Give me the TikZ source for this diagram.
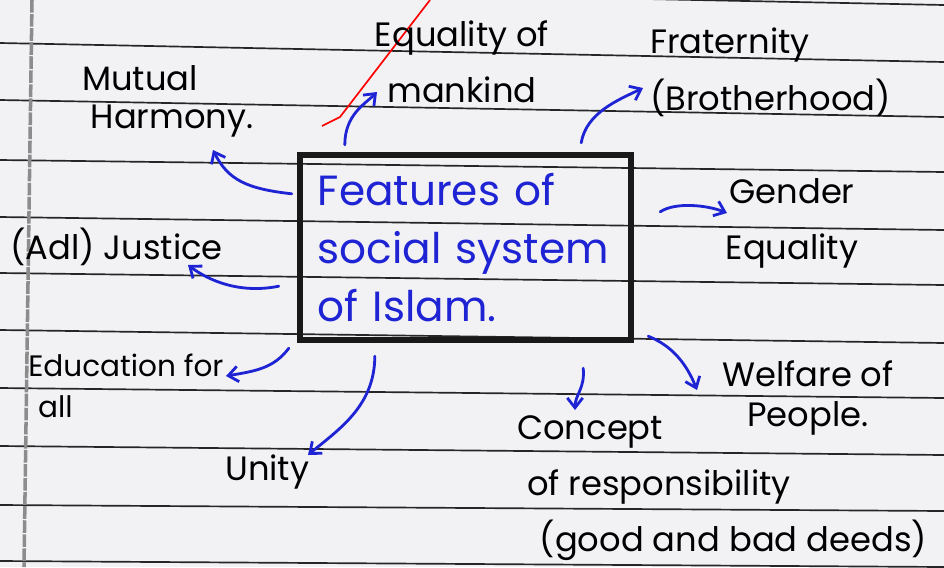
\documentclass[tikz,border=0pt]{standalone}
\usepackage{fontspec}
\setmainfont{Poppins}
\usetikzlibrary{positioning}
\usetikzlibrary{calc}
\usetikzlibrary{arrows.meta}

\definecolor{paper}{RGB}{242,241,244}
\definecolor{ink}{RGB}{30,36,212}
\definecolor{margin}{RGB}{140,140,140}

\begin{document}
\begin{tikzpicture}[x=0.025cm, y=-0.025cm, >={Straight Barb[length=7pt,width=11pt]},
    ruled/.style={line width=1.2pt, black!85},
    lbl/.style={inner sep=0pt, text=black, font=\fontsize{24}{40}\selectfont},
    feat/.style={draw=black!90, line width=4.5pt, minimum width=8.275cm, minimum height=4.625cm,
        inner xsep=0.45cm, text width=7.375cm, align=left, text=ink, font=\fontsize{30}{41}\selectfont},
    arr/.style={->, ink, line width=2pt, line cap=round}]

    \useasboundingbox (0,0) rectangle (944,567);
    \clip (0,0) rectangle (944,567);
    \fill[paper] (0,0) rectangle (944,567);

    % Blatt
    \foreach \yl/\yr in {-14/5, 43/62, 100/117, 160/172, 217/230, 273/285, 330/343, 388/398, 446/455, 505/511, 561/567}
        \draw[ruled] (0,\yl) -- (944,\yr);
    \draw[margin, line width=2.5pt, dash pattern=on 9pt off 1pt] (32,0) -- (24,567);
    \draw[red, line width=1.2pt] (322,126) -- (340,117) -- (430,0);

    \node[feat] (core) at (465.5,247.5) {Features of\\social system\\of Islam.};

    \node[lbl, anchor=north, align=center] (eq) at (462,20) {Equality of\\mankind};
    \node[lbl, anchor=north west, align=left] (frat) at (650,28) {Fraternity\\(Brotherhood)};
    \node[lbl, anchor=north west, align=left, font=\fontsize{24}{27}\selectfont] (mut) at (82,65) {Mutual\\\hspace*{6pt}Harmony.};
    \node[lbl, anchor=north, align=center] (gend) at (792,178) {Gender\\Equality};
    \node[lbl, anchor=north west] (just) at (10,228) {(Adl) Justice};
    \node[lbl, anchor=north west, align=left, font=\fontsize{21}{29}\selectfont] (edu) at (28,354) {Education for\\\hspace*{7pt}all};
    \node[lbl, anchor=north west] (unity) at (225,455) {Unity};
    \node[lbl, anchor=north west, align=left] (conc) at (517,415) {Concept\\\hspace*{7pt}of responsibility\\\hspace*{16pt}(good and bad deeds)};
    \node[lbl, anchor=north, align=center, font=\fontsize{24}{29}\selectfont] (welf) at (808,360) {Welfare of\\People.};

    % Pfeile
    \draw[arr] ($(core.north west)+(48,-7)$) .. controls +(0,-30) and +(-12,12) .. ($(eq.north)+(-85,72)$);
    \draw[arr] ($(core.north east)+(-53,-9)$) .. controls +(5,-30) and +(-25,12) .. ($(frat.north west)+(-7,60)$);
    \draw[arr] ($(core.north west)+(-5,42)$) .. controls +(-45,-5) and +(15,30) .. ($(mut.north west)+(131,85)$);
    \draw[arr] ($(core.north east)+(26,60)$) .. controls +(15,-10) and +(-20,-8) .. ($(gend.north)+(-65,35)$);
    \draw[arr] ($(core.south west)+(-18,-57)$) .. controls +(-40,8) and +(20,15) .. ($(just.north west)+(178,37)$);
    \draw[arr] ($(core.south west)+(-8,5)$) .. controls +(-15,20) and +(30,-5) .. ($(edu.north west)+(198,22)$);
    \draw[arr] ($(core.south west)+(78,13)$) .. controls +(0,50) and +(30,-25) .. ($(unity.north west)+(83,0)$);
    \draw[arr] ($(core.south east)+(-51,25)$) .. controls +(2,20) and +(0,-15) .. ($(conc.north west)+(58,-5)$);
    \draw[arr] ($(core.south east)+(14,-7)$) .. controls +(25,10) and +(-10,-25) .. ($(welf.north)+(-111,30)$);
\end{tikzpicture}
\end{document}
